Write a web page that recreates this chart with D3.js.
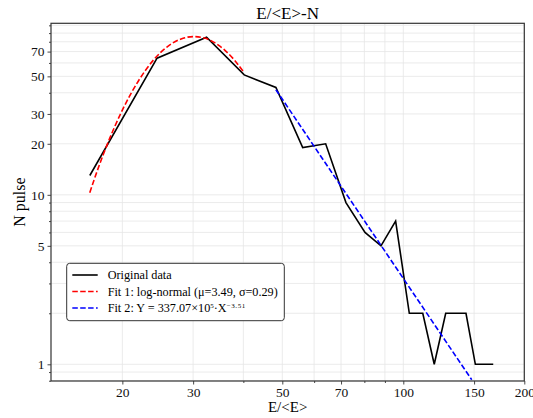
<!DOCTYPE html>
<html>
<head>
<meta charset="utf-8">
<script src="https://cdn.jsdelivr.net/npm/d3@7"></script>
<style>
  html, body { margin: 0; padding: 0; background: #fff; }
  svg { display: block; }
  text { font-family: "Liberation Serif", "Times New Roman", serif; }
</style>
</head>
<body>
<script>
// 原始数据：能量比 E/<E> 与脉冲数
const energy = [16.6, 24.4, 32.4, 40.2, 48.2, 56.2, 64.1, 72.0, 80.3, 88.0, 95.7, 103.5, 111.8, 119.4, 127.5, 143.2, 151.1, 167.4];
const pulses = [13, 64, 85, 51, 43, 19, 20, 9, 6, 5, 7, 2, 2, 1, 2, 2, 1, 1];

// 拟合 1：对数正态曲线（从图上读取的采样点）
const fit1X = [16.6, 17, 18, 20, 22, 24, 26, 28, 30, 32, 34, 36, 38, 40.2];
const fit1Y = [10.3, 12.2, 17.7, 31.6, 47.6, 63.1, 75.4, 83.1, 85.8, 84.1, 78.8, 71.2, 62.4, 52.4];

// 拟合 2：幂律，在双对数坐标下为直线，两端点即可
const fit2X = [48.2, 148];
const fit2Y = [41.7, 0.81];

// 刻度
const xTicks = [20, 30, 50, 70, 100, 150, 200];
const yTicks = [1, 5, 10, 20, 30, 50, 70];
const xMinor = [40, 60, 80, 90];
const yMinor = [0.8, 0.9, 2, 3, 4, 6, 7, 8, 9, 40, 60, 80, 90, 100];

const legendLabels = ["Original data", "Fit 1: log-normal (μ=3.49, σ=0.29)", "Fit 2"];

const width = 533, height = 418;
const plot = { left: 51, right: 524.3, top: 23.3, bottom: 381 };
const serif = "'Liberation Serif', 'Times New Roman', serif";

const svg = d3.create("svg")
  .attr("width", width)
  .attr("height", height)
  .attr("viewBox", [0, 0, width, height])
  .attr("font-family", serif);

const x = d3.scaleLog().domain([13.29, 200]).range([plot.left, plot.right]);
const y = d3.scaleLog().domain([0.797, 102.8]).range([plot.bottom, plot.top]);

// 网格线（主 + 次）
const grid = svg.append("g").attr("stroke", "#e6e6e6").attr("stroke-width", 0.8);
grid.selectAll("line.gx")
  .data(xTicks.concat(xMinor))
  .join("line")
  .attr("x1", d => x(d)).attr("x2", d => x(d))
  .attr("y1", plot.top).attr("y2", plot.bottom);
grid.selectAll("line.gy")
  .data(yTicks.concat(yMinor))
  .join("line")
  .attr("y1", d => y(d)).attr("y2", d => y(d))
  .attr("x1", plot.left).attr("x2", plot.right);

// 坐标轴
const xAxis = svg.append("g")
  .attr("transform", `translate(0,${plot.bottom})`)
  .call(d3.axisBottom(x).tickValues(xTicks).tickFormat(d3.format("d")).tickSize(3.5).tickPadding(3));
const xAxisMinor = svg.append("g")
  .attr("transform", `translate(0,${plot.bottom})`)
  .call(d3.axisBottom(x).tickValues(xMinor).tickFormat("").tickSize(2));
const yAxis = svg.append("g")
  .attr("transform", `translate(${plot.left},0)`)
  .call(d3.axisLeft(y).tickValues(yTicks).tickFormat(d3.format("d")).tickSize(3.5).tickPadding(3));
const yAxisMinor = svg.append("g")
  .attr("transform", `translate(${plot.left},0)`)
  .call(d3.axisLeft(y).tickValues(yMinor).tickFormat("").tickSize(2));

[xAxis, xAxisMinor, yAxis, yAxisMinor].forEach(g => {
  g.attr("font-family", serif).attr("font-size", 13.5);
  g.select(".domain").remove();
  g.selectAll("line").attr("stroke", "#333").attr("stroke-width", 0.9);
  g.selectAll("text").attr("fill", "#111");
});

// 边框
svg.append("rect")
  .attr("x", plot.left).attr("y", plot.top)
  .attr("width", plot.right - plot.left).attr("height", plot.bottom - plot.top)
  .attr("fill", "none").attr("stroke", "#333").attr("stroke-width", 1.2);

const line = d3.line().x(d => x(d[0])).y(d => y(d[1]));

// 原始数据折线
svg.append("path")
  .datum(d3.zip(energy, pulses))
  .attr("fill", "none").attr("stroke", "#000").attr("stroke-width", 1.6)
  .attr("stroke-linejoin", "miter")
  .attr("d", line);

// 拟合曲线
svg.append("path")
  .datum(d3.zip(fit1X, fit1Y))
  .attr("fill", "none").attr("stroke", "#ff0000").attr("stroke-width", 1.6)
  .attr("stroke-dasharray", "5.5,2.4")
  .attr("d", d3.line().x(d => x(d[0])).y(d => y(d[1])).curve(d3.curveMonotoneX));
svg.append("path")
  .datum(d3.zip(fit2X, fit2Y))
  .attr("fill", "none").attr("stroke", "#0000ff").attr("stroke-width", 1.6)
  .attr("stroke-dasharray", "5.5,2.4")
  .attr("d", line);

// 标题与坐标轴标签
svg.append("text")
  .attr("x", (plot.left + plot.right) / 2).attr("y", 19)
  .attr("text-anchor", "middle").attr("font-size", 17)
  .text("E/<E>-N");
svg.append("text")
  .attr("x", (plot.left + plot.right) / 2).attr("y", 412)
  .attr("text-anchor", "middle").attr("font-size", 15)
  .text("E/<E>");
svg.append("text")
  .attr("transform", `translate(25,${(plot.top + plot.bottom) / 2}) rotate(-90)`)
  .attr("text-anchor", "middle").attr("font-size", 16)
  .text("N pulse");

// 图例
const legend = svg.append("g");
legend.append("rect")
  .attr("x", 66.7).attr("y", 263.3).attr("width", 217.6).attr("height", 57.4)
  .attr("rx", 3).attr("fill", "#fff").attr("stroke", "#333").attr("stroke-width", 1);
const rows = [
  { color: "#000", dash: null },
  { color: "#ff0000", dash: "5.5,2.4" },
  { color: "#0000ff", dash: "5.5,2.4" }
];
rows.forEach((r, i) => {
  const cy = 275 + i * 16.5;
  legend.append("line")
    .attr("x1", 72.3).attr("x2", 97.7).attr("y1", cy).attr("y2", cy)
    .attr("stroke", r.color).attr("stroke-width", 1.6)
    .attr("stroke-dasharray", r.dash);
  const t = legend.append("text")
    .attr("x", 107.7).attr("y", cy + 4.3)
    .attr("font-size", 12.2);
  if (i < 2) {
    t.text(legendLabels[i]);
  } else {
    t.append("tspan").text("Fit 2: Y = 337.07×10");
    t.append("tspan").attr("dy", -4).attr("font-size", 7).text("5");
    t.append("tspan").attr("dy", 4).text("·X");
    t.append("tspan").attr("dy", -4).attr("font-size", 7).attr("letter-spacing", 0.6).text("−3.51");
  }
});

d3.select("body").append(() => svg.node());
</script>
</body>
</html>
